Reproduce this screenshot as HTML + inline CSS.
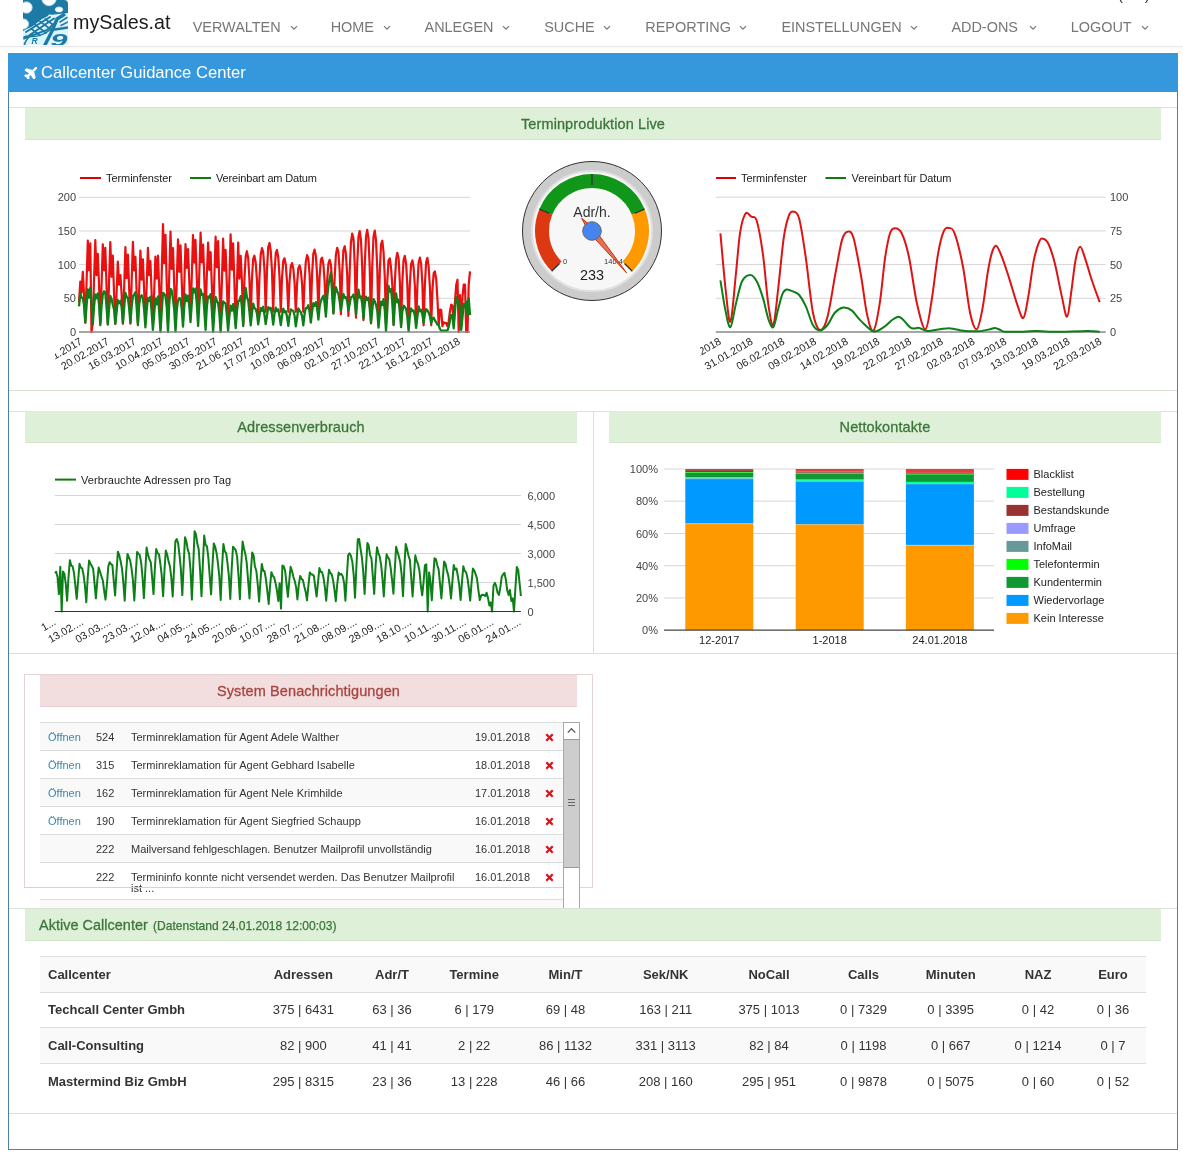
<!DOCTYPE html>
<html lang="de"><head><meta charset="utf-8"><title>mySales.at - Callcenter Guidance Center</title>
<style>
*{box-sizing:border-box;margin:0;padding:0}
html,body{width:1183px;height:1155px;overflow:hidden;background:#fff}
body{position:relative;font-family:"Liberation Sans",sans-serif;color:#333;font-size:13px}
.abs{position:absolute}
.nav{position:absolute;left:0;top:0;width:1183px;height:47px;background:#fff;border-bottom:1px solid #e9e9e9;box-shadow:0 1px 2px rgba(0,0,0,.04)}
.brand{position:absolute;left:73px;top:9px;font-size:19.7px;line-height:26px;color:#1c1c1c;white-space:nowrap}
.ni{position:absolute;top:18px;font-size:14.45px;line-height:18px;color:#777;white-space:nowrap}
.chev{position:absolute;top:24.5px;width:8px;height:6px}
.outer{position:absolute;left:8px;top:53px;width:1170px;height:1097px;border:1px solid #4a83a3;border-top:none;background:#fff}
.ohead{position:absolute;left:8px;top:53px;width:1170px;height:39px;background:#3598dc;color:#fff;font-size:16.6px;line-height:40px;white-space:nowrap}
.hline{position:absolute;height:1px;background:#d9e3d3}
.vline{position:absolute;width:1px;background:#d6e4cf}
.gh{position:absolute;height:32px;background:#dff0d8;border-bottom:1px solid #d3e6c9;color:#3c763d;font-size:14.5px;letter-spacing:.1px;line-height:33px;text-align:center;white-space:nowrap;-webkit-text-stroke:.3px #3c763d}
.rh{position:absolute;height:32px;background:#f2dede;border-bottom:1px solid #ebcfd2;color:#a94442;font-size:14.5px;letter-spacing:.1px;line-height:33px;text-align:center;white-space:nowrap;-webkit-text-stroke:.3px #a94442}
svg text{font-family:"Liberation Sans",sans-serif}
</style></head><body>
<div class="nav"></div>
<svg class="abs" style="left:23px;top:0" width="45" height="45" viewBox="0 0 45 45">
<defs><clipPath id="lgc"><path d="M0 0H41Q45 0 45 4V45H0Z"/></clipPath></defs>
<g clip-path="url(#lgc)">
<rect x="0" y="0" width="45" height="45" fill="#1c7aa4"/>
<path d="M0 31L10 26L19 19L27 15L36 14L45 13V45H0Z" fill="#dcf5fd"/>
<circle cx="3.500" cy="7.500" r="5.600" fill="#fff" stroke="#bfe3ef" stroke-width="1"/>
<circle cx="26" cy="-1.500" r="7.200" fill="#fff" stroke="#bfe3ef" stroke-width="1"/>
<ellipse cx="36" cy="9.500" rx="3.800" ry="2.600" fill="#fff" stroke="#bfe3ef" stroke-width=".8"/>
<circle cx="0.500" cy="24" r="5" fill="#fff" stroke="#bfe3ef" stroke-width="1"/>
<ellipse cx="27" cy="15.500" rx="1.800" ry="1.100" fill="#e8f8ff"/>
<g stroke="#1c7aa4" fill="none" stroke-linecap="round">
<path d="M3 32L27 17M6 35.500L31 18.500M1 38.500L24 30L34 21" stroke-width="1.900"/>
<path d="M12 24.500L23 33M17 21.500L28 29.500M8 28.500L17 35.500M22 19L31 25.500" stroke-width="1.600"/>
<path d="M21.500 46L29.500 30L34 19L42 14" stroke-width="3.400" stroke-linecap="butt"/>
<path d="M32 29.500L46 27.300" stroke-width="2.400"/>
<path d="M3 36C12 38 22 35 29 28" stroke-width="1.500"/>
<path d="M37 22L44 17.500M38 25.500L45 22" stroke-width="1.500"/>
</g>
<g fill="#1c7aa4" font-style="italic" font-weight="bold">
<text x="-0.500" y="45" font-size="12">7</text>
<text x="8.500" y="44" font-size="8.500">R</text>
<text x="27.500" y="45.500" font-size="16.500" textLength="17" lengthAdjust="spacingAndGlyphs">9</text>
</g>
</g>
</svg>

<div class="brand">mySales.at</div>
<div class="abs" style="left:1118px;top:-13px;font-size:15px;line-height:15px;color:#333;white-space:nowrap;letter-spacing:1px">(&nbsp;&nbsp;&nbsp;&nbsp;)</div>
<div class="ni" style="left:192.7px">VERWALTEN</div><svg class="chev" style="left:290px" viewBox="0 0 8 6"><path d="M1 1.2 L4 4.2 L7 1.2" fill="none" stroke="#777" stroke-width="1.2"/></svg>
<div class="ni" style="left:330.7px">HOME</div><svg class="chev" style="left:383px" viewBox="0 0 8 6"><path d="M1 1.2 L4 4.2 L7 1.2" fill="none" stroke="#777" stroke-width="1.2"/></svg>
<div class="ni" style="left:424.5px">ANLEGEN</div><svg class="chev" style="left:502px" viewBox="0 0 8 6"><path d="M1 1.2 L4 4.2 L7 1.2" fill="none" stroke="#777" stroke-width="1.2"/></svg>
<div class="ni" style="left:544.2px">SUCHE</div><svg class="chev" style="left:603px" viewBox="0 0 8 6"><path d="M1 1.2 L4 4.2 L7 1.2" fill="none" stroke="#777" stroke-width="1.2"/></svg>
<div class="ni" style="left:645.3px">REPORTING</div><svg class="chev" style="left:739px" viewBox="0 0 8 6"><path d="M1 1.2 L4 4.2 L7 1.2" fill="none" stroke="#777" stroke-width="1.2"/></svg>
<div class="ni" style="left:781.4px">EINSTELLUNGEN</div><svg class="chev" style="left:910px" viewBox="0 0 8 6"><path d="M1 1.2 L4 4.2 L7 1.2" fill="none" stroke="#777" stroke-width="1.2"/></svg>
<div class="ni" style="left:951.4px">ADD-ONS</div><svg class="chev" style="left:1029px" viewBox="0 0 8 6"><path d="M1 1.2 L4 4.2 L7 1.2" fill="none" stroke="#777" stroke-width="1.2"/></svg>
<div class="ni" style="left:1070.7px">LOGOUT</div><svg class="chev" style="left:1140.5px" viewBox="0 0 8 6"><path d="M1 1.2 L4 4.2 L7 1.2" fill="none" stroke="#777" stroke-width="1.2"/></svg>
<div class="outer"></div>
<div class="ohead"><svg class="abs" style="left:15.5px;top:13.5px" width="13.5" height="12.700" viewBox="0 0 16 15"><path fill="#fff" stroke="#fff" stroke-width="1.1" stroke-linejoin="round" d="M15.2 1.1c.6.6.2 2-1 3.200L11.900 6.600l1.900 7.100c.1.200 0 .4-.2.500l-1.200.9c-.2.200-.5.100-.6-.1L8.700 9.800 6.200 12.300l.4 2.100c0 .2 0 .3-.1.400l-.8.800c-.2.200-.5.100-.6-.1L3.900 13 1.400 11.800c-.3-.1-.3-.4-.1-.6l.8-.8c.1-.1.300-.2.400-.1l2.100.4L7.100 8.200 1.900 5.100c-.3-.1-.3-.4-.1-.6l1-1.200c.1-.2.300-.2.500-.2l7.100 1.900 2.300-2.300c1.200-1.200 2.600-1.600 3.200-1z" transform="translate(-0.5,-1)"/>
</svg><span class="abs" style="left:33px;top:0">Callcenter Guidance Center</span></div>
<div class="hline" style="left:9px;top:107px;width:1168px"></div><div class="hline" style="left:9px;top:390px;width:1168px"></div><div class="hline" style="left:9px;top:411px;width:1168px"></div><div class="hline" style="left:9px;top:653px;width:1168px"></div><div class="hline" style="left:9px;top:908px;width:1168px"></div><div class="hline" style="left:9px;top:1113px;width:1168px"></div><div class="vline" style="left:593px;top:411px;height:243px"></div>
<div class="gh" style="left:25px;top:108px;width:1136px">Terminproduktion Live</div>
<div class="gh" style="left:25px;top:411px;width:552px">Adressenverbrauch</div>
<div class="gh" style="left:609px;top:411px;width:552px">Nettokontakte</div>
<svg class="abs" style="left:55px;top:150px;overflow:hidden" width="445" height="235" viewBox="55 150 445 235"><path d="M80 178H101" stroke="#e00000" stroke-width="2"/><text x="106" y="182" font-size="11" fill="#222" textLength="66">Terminfenster</text><path d="M190 178H211" stroke="#0a7d0a" stroke-width="2"/><text x="216" y="182" font-size="11" fill="#222" textLength="101">Vereinbart am Datum</text><path d="M79.0 298.3H470.0" stroke="#d6d6d6" stroke-width="1"/><text x="76" y="302.3" text-anchor="end" font-size="11" fill="#444">50</text><path d="M79.0 264.6H470.0" stroke="#d6d6d6" stroke-width="1"/><text x="76" y="268.6" text-anchor="end" font-size="11" fill="#444">100</text><path d="M79.0 231.0H470.0" stroke="#d6d6d6" stroke-width="1"/><text x="76" y="235.0" text-anchor="end" font-size="11" fill="#444">150</text><path d="M79.0 197.3H470.0" stroke="#d6d6d6" stroke-width="1"/><text x="76" y="201.3" text-anchor="end" font-size="11" fill="#444">200</text><text x="76" y="336.0" text-anchor="end" font-size="11" fill="#444">0</text><polyline points="79.0,302.6 80.3,281.5 81.5,292.7 82.8,271.8 84.0,294.1 85.3,322.8 86.5,284.4 87.8,240.5 89.0,270.1 90.3,243.4 91.5,332.0 92.8,323.0 94.0,281.2 95.3,240.0 96.5,275.2 97.8,253.8 99.1,286.5 100.3,323.3 101.6,283.6 102.8,244.4 104.1,270.3 105.3,247.9 106.6,288.1 107.8,323.5 109.1,279.7 110.3,242.1 111.6,276.8 112.8,255.6 114.1,294.8 115.3,323.8 116.6,293.0 117.8,261.5 119.1,284.6 120.4,275.1 121.6,293.6 122.9,323.8 124.1,290.0 125.4,247.1 126.6,278.2 127.9,254.5 129.1,286.9 130.4,323.6 131.6,283.5 132.9,241.8 134.1,270.4 135.4,256.8 136.6,291.4 137.9,323.4 139.2,290.1 140.4,250.5 141.7,279.6 142.9,259.4 144.2,292.3 145.4,323.2 146.7,284.8 147.9,247.8 149.2,275.1 150.4,261.2 151.7,295.4 152.9,323.0 154.2,292.0 155.4,256.6 156.7,278.7 158.0,255.7 159.2,287.9 160.5,322.8 161.7,274.5 163.0,224.2 164.2,263.1 165.5,234.9 166.7,282.8 168.0,322.6 169.2,276.9 170.5,231.6 171.7,268.9 173.0,248.2 174.2,284.7 175.5,320.6 176.8,280.8 178.0,239.4 179.3,271.8 180.5,245.3 181.8,283.7 183.0,317.9 184.3,284.1 185.5,244.2 186.8,268.0 188.0,249.0 189.3,281.1 190.5,315.2 191.8,276.2 193.0,235.1 194.3,262.7 195.5,239.9 196.8,278.8 198.1,312.5 199.3,273.8 200.6,232.7 201.8,262.4 203.1,244.7 204.3,278.7 205.6,313.9 206.8,275.9 208.1,242.5 209.3,269.8 210.6,252.0 211.8,285.4 213.1,316.6 214.3,278.6 215.6,236.7 216.9,267.3 218.1,241.2 219.4,285.7 220.6,319.4 221.9,282.0 223.1,238.7 224.4,270.7 225.6,249.8 226.9,286.2 228.1,322.2 229.4,277.1 230.6,234.3 231.9,269.6 233.1,243.3 234.4,282.6 235.7,325.0 236.9,285.8 238.2,242.6 239.4,278.7 240.7,255.8 241.9,280.5 243.2,324.5 244.4,280.2 245.7,256.2 246.9,251.2 248.2,258.2 249.4,278.8 250.7,319.4 251.9,279.5 253.2,259.0 254.4,255.7 255.7,262.7 257.0,280.8 258.2,314.3 259.5,277.2 260.7,254.8 262.0,248.0 263.2,252.1 264.5,270.5 265.7,311.8 267.0,269.8 268.2,247.3 269.5,243.0 270.7,250.4 272.0,271.2 273.2,311.8 274.5,272.8 275.8,252.9 277.0,250.0 278.3,257.7 279.5,276.6 280.8,311.8 282.0,278.1 283.3,260.8 284.5,258.3 285.8,264.8 287.0,281.3 288.3,311.8 289.5,282.0 290.8,266.1 292.0,263.1 293.3,268.4 294.6,283.2 295.8,311.8 297.1,283.7 298.3,268.4 299.6,265.4 300.8,270.3 302.1,284.3 303.3,311.8 304.6,281.2 305.8,261.7 307.1,255.2 308.3,258.3 309.6,274.5 310.8,311.8 312.1,274.3 313.3,253.9 314.6,249.6 315.9,255.9 317.1,274.7 318.4,311.8 319.6,277.0 320.9,259.6 322.1,257.6 323.4,264.7 324.6,281.5 325.9,311.8 327.1,281.1 328.4,263.8 329.6,259.9 330.9,264.8 332.1,280.0 333.4,312.6 334.7,277.0 335.9,254.9 337.2,247.8 338.4,252.0 339.7,271.5 340.9,314.2 342.2,272.6 343.4,250.3 344.7,246.2 345.9,253.8 347.2,274.9 348.4,315.9 349.7,271.1 350.9,242.8 352.2,233.5 353.5,238.5 354.7,263.7 356.0,317.6 357.2,264.9 358.5,236.4 359.7,231.0 361.0,240.5 362.2,267.1 363.5,320.1 364.7,266.8 366.0,236.7 367.2,229.8 368.5,238.5 369.7,266.7 371.0,323.5 372.2,267.5 373.5,236.8 374.8,230.6 376.0,240.2 377.3,269.2 378.5,323.9 379.8,271.6 381.0,244.7 382.3,240.7 383.5,251.6 384.8,277.5 386.0,323.9 387.3,281.1 388.5,260.3 389.8,258.5 391.0,267.4 392.3,285.3 393.6,324.1 394.8,283.4 396.1,259.4 397.3,252.8 398.6,258.5 399.8,281.0 401.1,324.4 402.3,282.2 403.6,259.8 404.8,255.9 406.1,263.5 407.3,284.4 408.6,324.8 409.8,285.2 411.1,264.1 412.4,260.3 413.6,267.4 414.9,286.5 416.1,325.1 417.4,285.6 418.6,263.1 419.9,257.6 421.1,263.6 422.4,284.2 423.6,325.3 424.9,284.5 426.1,262.3 427.4,257.8 428.6,266.2 429.9,287.3 431.2,325.3 432.4,290.2 433.7,273.1 434.9,271.5 436.2,279.1 437.4,298.6 438.7,325.3 439.9,309.7 441.2,309.8 442.4,326.2 443.7,322.2 444.9,323.3 446.2,322.8 447.4,326.2 448.7,321.5 449.9,311.7 451.2,304.6 452.5,305.9 453.7,325.3 455.0,300.8 456.2,285.1 457.5,279.7 458.7,332.0 460.0,295.0 461.2,325.3 462.5,297.1 463.7,284.7 465.0,284.6 466.2,332.0 467.5,332.0 468.7,284.9 470.0,271.4" fill="none" stroke="#e81010" stroke-width="2.2" stroke-linejoin="round"/><polyline points="79.0,306.4 80.3,293.3 81.5,297.6 82.8,297.9 84.0,304.8 85.3,322.4 86.5,306.7 87.8,289.5 89.0,297.6 90.3,287.9 91.5,303.5 92.8,323.9 94.0,306.8 95.3,294.3 96.5,298.2 97.8,293.4 99.1,305.2 100.3,325.2 101.6,305.7 102.8,294.5 104.1,291.3 105.3,292.4 106.6,307.9 107.8,324.6 109.1,308.5 110.3,296.0 111.6,298.9 112.8,304.8 114.1,309.6 115.3,323.9 116.6,312.2 117.8,300.2 119.1,303.2 120.4,300.8 121.6,307.0 122.9,323.2 124.1,308.7 125.4,292.9 126.6,296.9 127.9,298.0 129.1,307.6 130.4,322.7 131.6,307.3 132.9,296.4 134.1,294.6 135.4,292.3 136.6,307.0 137.9,325.1 139.2,304.2 140.4,296.8 141.7,295.3 142.9,298.0 144.2,310.5 145.4,327.4 146.7,310.0 147.9,298.0 149.2,300.7 150.4,296.7 151.7,313.0 152.9,329.8 154.2,313.8 155.4,298.5 156.7,304.4 158.0,296.3 159.2,311.7 160.5,332.0 161.7,311.8 163.0,292.8 164.2,293.9 165.5,296.3 166.7,306.6 168.0,332.0 169.2,304.5 170.5,288.8 171.7,290.4 173.0,298.8 174.2,309.5 175.5,331.7 176.8,309.7 178.0,300.7 179.3,298.1 180.5,298.7 181.8,309.6 183.0,326.6 184.3,306.5 185.5,294.5 186.8,301.1 188.0,295.6 189.3,306.1 190.5,322.2 191.8,303.5 193.0,288.5 194.3,292.3 195.5,288.5 196.8,304.0 198.1,326.0 199.3,304.4 200.6,289.4 201.8,294.9 203.1,293.9 204.3,310.4 205.6,329.8 206.8,307.7 208.1,296.3 209.3,297.8 210.6,294.1 211.8,309.5 213.1,332.0 214.3,313.2 215.6,297.0 216.9,301.1 218.1,303.1 219.4,314.2 220.6,332.0 221.9,312.0 223.1,301.4 224.4,302.8 225.6,303.5 226.9,315.5 228.1,330.9 229.4,316.0 230.6,305.7 231.9,310.7 233.1,304.1 234.4,313.0 235.7,328.2 236.9,311.8 238.2,301.0 239.4,300.8 240.7,296.2 241.9,307.4 243.2,326.2 244.4,303.6 245.7,287.8 246.9,297.2 248.2,300.5 249.4,311.3 250.7,325.3 251.9,313.3 253.2,303.6 254.4,308.0 255.7,309.1 257.0,313.7 258.2,324.4 259.5,315.3 260.7,307.9 262.0,310.9 263.2,306.8 264.5,315.0 265.7,324.2 267.0,315.6 268.2,307.2 269.5,309.3 270.7,307.8 272.0,314.2 273.2,324.7 274.5,313.7 275.8,307.7 277.0,311.2 278.3,309.4 279.5,316.3 280.8,325.2 282.0,315.8 283.3,308.6 284.5,312.2 285.8,311.2 287.0,316.6 288.3,325.8 289.5,316.2 290.8,309.5 292.0,310.3 293.3,311.0 294.6,315.8 295.8,326.3 297.1,317.8 298.3,308.4 299.6,310.8 300.8,312.1 302.1,316.1 303.3,325.3 304.6,313.8 305.8,308.1 307.1,308.0 308.3,305.2 309.6,311.8 310.8,322.5 312.1,311.6 313.3,303.2 314.6,306.0 315.9,302.1 317.1,308.1 318.4,319.6 319.6,307.1 320.9,300.8 322.1,298.1 323.4,295.8 324.6,303.4 325.9,316.7 327.1,298.5 328.4,285.7 329.6,278.8 330.9,272.5 332.1,293.2 333.4,313.6 334.7,296.1 335.9,287.2 337.2,291.2 338.4,293.9 339.7,301.9 340.9,310.3 342.2,301.7 343.4,294.0 344.7,297.7 345.9,297.1 347.2,301.3 348.4,310.5 349.7,303.9 350.9,297.3 352.2,296.8 353.5,294.5 354.7,301.6 356.0,314.3 357.2,301.7 358.5,289.6 359.7,297.5 361.0,296.5 362.2,303.9 363.5,318.4 364.7,304.7 366.0,296.6 367.2,299.9 368.5,297.8 369.7,308.4 371.0,322.6 372.2,310.3 373.5,299.2 374.8,301.4 376.0,304.8 377.3,311.0 378.5,327.6 379.8,313.5 381.0,301.7 382.3,305.0 383.5,299.2 384.8,310.7 386.0,331.2 387.3,310.5 388.5,285.8 389.8,291.7 391.0,289.1 392.3,301.9 393.6,325.1 394.8,305.4 396.1,293.5 397.3,302.4 398.6,299.8 399.8,311.8 401.1,327.2 402.3,311.4 403.6,305.6 404.8,307.0 406.1,308.8 407.3,316.4 408.6,331.2 409.8,316.2 411.1,308.4 412.4,311.0 413.6,310.5 414.9,315.9 416.1,327.9 417.4,316.7 418.6,306.5 419.9,311.3 421.1,309.6 422.4,314.8 423.6,322.8 424.9,313.8 426.1,309.1 427.4,310.4 428.6,312.5 429.9,316.0 431.2,323.3 432.4,318.2 433.7,317.7 434.9,320.4 436.2,322.3 437.4,324.6 438.7,325.0 439.9,328.8 441.2,330.7 442.4,330.7 443.7,330.7 444.9,330.7 446.2,330.7 447.4,330.7 448.7,326.8 449.9,321.3 451.2,315.1 452.5,315.2 453.7,328.3 455.0,311.1 456.2,296.9 457.5,302.4 458.7,300.5 460.0,310.9 461.2,330.0 462.5,317.2 463.7,303.9 465.0,307.1 466.2,301.7 467.5,315.3 468.7,298.3 470.0,315.2" fill="none" stroke="#0d7f17" stroke-width="2.3" stroke-linejoin="round"/><path d="M79.0 332.0H470.0" stroke="#888" stroke-width="1.4"/><text x="83.0" y="343.5" text-anchor="end" font-size="10.7" fill="#222" transform="rotate(-30 83.0 343.5)">26.01.2017</text><text x="110.0" y="343.5" text-anchor="end" font-size="10.7" fill="#222" transform="rotate(-30 110.0 343.5)">20.02.2017</text><text x="137.0" y="343.5" text-anchor="end" font-size="10.7" fill="#222" transform="rotate(-30 137.0 343.5)">16.03.2017</text><text x="164.0" y="343.5" text-anchor="end" font-size="10.7" fill="#222" transform="rotate(-30 164.0 343.5)">10.04.2017</text><text x="191.0" y="343.5" text-anchor="end" font-size="10.7" fill="#222" transform="rotate(-30 191.0 343.5)">05.05.2017</text><text x="218.0" y="343.5" text-anchor="end" font-size="10.7" fill="#222" transform="rotate(-30 218.0 343.5)">30.05.2017</text><text x="245.0" y="343.5" text-anchor="end" font-size="10.7" fill="#222" transform="rotate(-30 245.0 343.5)">21.06.2017</text><text x="272.0" y="343.5" text-anchor="end" font-size="10.7" fill="#222" transform="rotate(-30 272.0 343.5)">17.07.2017</text><text x="299.0" y="343.5" text-anchor="end" font-size="10.7" fill="#222" transform="rotate(-30 299.0 343.5)">10.08.2017</text><text x="326.0" y="343.5" text-anchor="end" font-size="10.7" fill="#222" transform="rotate(-30 326.0 343.5)">06.09.2017</text><text x="353.0" y="343.5" text-anchor="end" font-size="10.7" fill="#222" transform="rotate(-30 353.0 343.5)">02.10.2017</text><text x="380.0" y="343.5" text-anchor="end" font-size="10.7" fill="#222" transform="rotate(-30 380.0 343.5)">27.10.2017</text><text x="407.0" y="343.5" text-anchor="end" font-size="10.7" fill="#222" transform="rotate(-30 407.0 343.5)">22.11.2017</text><text x="434.0" y="343.5" text-anchor="end" font-size="10.7" fill="#222" transform="rotate(-30 434.0 343.5)">16.12.2017</text><text x="461.0" y="343.5" text-anchor="end" font-size="10.7" fill="#222" transform="rotate(-30 461.0 343.5)">16.01.2018</text></svg>
<svg class="abs" style="left:510px;top:150px" width="170" height="165" viewBox="510 150 170 165"><circle cx="592.0" cy="231.0" r="69.5" fill="#cccccc" stroke="#333" stroke-width="1"/><circle cx="592.0" cy="231.0" r="60" fill="#f7f7f7" stroke="#e0e0e0" stroke-width="2"/><path d="M551.69 271.31A57 57 0 0 1 539.34 209.19L552.27 214.54A43 43 0 0 0 561.59 261.41Z" fill="#dc3912"/><path d="M539.34 209.19A57 57 0 0 1 644.66 209.19L631.73 214.54A43 43 0 0 0 552.27 214.54Z" fill="#109618"/><path d="M644.66 209.19A57 57 0 0 1 632.31 271.31L622.41 261.41A43 43 0 0 0 631.73 214.54Z" fill="#ff9900"/><path d="M559.47 263.53L551.69 271.31" stroke="#333" stroke-width="1.3"/><path d="M549.50 213.40L539.34 209.19" stroke="#333" stroke-width="1.3"/><path d="M592.00 185.00L592.00 174.00" stroke="#333" stroke-width="1.3"/><path d="M634.50 213.40L644.66 209.19" stroke="#333" stroke-width="1.3"/><path d="M624.53 263.53L632.31 271.31" stroke="#333" stroke-width="1.3"/><text x="592.0" y="216.5" text-anchor="middle" font-size="14" fill="#333">Adr/h.</text><text x="565" y="264" text-anchor="middle" font-size="7.5" fill="#333">0</text><text x="613.5" y="264" text-anchor="middle" font-size="7.5" fill="#333">140.4</text><text x="592.0" y="279.5" text-anchor="middle" font-size="14.4" fill="#222">233</text><path d="M626.5 272.8L589.5 233.0L581.6 218.2L594.5 229.0Z" fill="#dc3912" fill-opacity="0.7" stroke="#c63310" stroke-width="1"/><circle cx="592.0" cy="231.0" r="9.3" fill="#4684ee" stroke="#666" stroke-width="1"/></svg>
<svg class="abs" style="left:700px;top:150px;overflow:hidden" width="468" height="235" viewBox="700 150 468 235"><path d="M716 178H736" stroke="#e00000" stroke-width="2"/><text x="741" y="182" font-size="11" fill="#222" textLength="66">Terminfenster</text><path d="M825.5 178H846" stroke="#0a7d0a" stroke-width="2"/><text x="851.5" y="182" font-size="11" fill="#222" textLength="100">Vereinbart für Datum</text><text x="1110" y="336.0" font-size="11" fill="#444">0</text><path d="M715.8 298.3H1105.8" stroke="#d6d6d6" stroke-width="1"/><text x="1110" y="302.3" font-size="11" fill="#444">25</text><path d="M715.8 264.6H1105.8" stroke="#d6d6d6" stroke-width="1"/><text x="1110" y="268.6" font-size="11" fill="#444">50</text><path d="M715.8 230.9H1105.8" stroke="#d6d6d6" stroke-width="1"/><text x="1110" y="234.9" font-size="11" fill="#444">75</text><path d="M715.8 197.2H1105.8" stroke="#d6d6d6" stroke-width="1"/><text x="1110" y="201.2" font-size="11" fill="#444">100</text><path d="M715.8 332H1105.8" stroke="#888" stroke-width="1.4"/><path d="M720.4 233.3C721.3 242.4 723.8 272.8 725.4 287.5C727.1 302.2 728.7 323.8 730.4 321.7C732.2 319.6 734.2 289.7 735.8 275.0C737.4 260.3 738.4 243.6 740.0 233.3C741.6 223.1 743.6 216.5 745.4 213.8C747.3 211.0 749.4 215.5 751.3 216.7C753.1 217.9 754.7 214.6 756.7 220.8C758.6 227.1 761.0 240.3 762.9 254.2C764.9 268.1 766.6 292.4 768.3 304.2C770.1 316.0 771.7 327.8 773.3 325.0C775.0 322.3 776.6 302.1 778.3 287.5C780.1 272.9 782.0 249.5 783.8 237.5C785.5 225.6 787.2 220.2 788.8 215.8C790.4 211.5 791.6 211.2 793.4 211.7C795.1 212.2 797.1 211.0 799.2 218.8C801.3 226.5 803.6 242.7 805.9 258.4C808.1 274.0 810.6 300.6 812.9 312.5C815.3 324.5 817.6 329.3 820.0 330.0C822.5 330.7 824.9 326.6 827.5 316.7C830.2 306.8 833.4 283.7 835.9 270.9C838.3 258.0 840.2 246.1 842.1 239.6C844.1 233.1 845.7 232.0 847.5 231.7C849.4 231.3 851.1 230.3 853.4 237.5C855.6 244.7 858.6 262.2 860.9 275.0C863.2 287.9 865.0 305.3 867.1 314.6C869.2 323.9 871.3 332.6 873.4 330.9C875.4 329.1 877.7 316.3 879.6 304.2C881.6 292.1 883.3 270.2 885.0 258.4C886.8 246.5 888.4 238.3 890.0 233.3C891.7 228.3 893.1 228.3 895.0 228.3C897.0 228.3 899.4 228.7 901.7 233.3C904.0 238.0 906.2 244.5 908.8 256.3C911.4 268.1 914.3 292.0 917.1 304.2C919.9 316.3 923.0 329.9 925.5 329.2C927.9 328.5 929.6 312.5 931.7 300.0C933.8 287.5 936.0 265.5 938.0 254.2C939.9 242.9 941.6 236.5 943.4 232.1C945.1 227.7 946.5 227.7 948.4 227.9C950.3 228.1 952.2 226.9 954.6 233.3C957.1 239.8 960.4 253.5 963.0 266.7C965.5 279.9 967.8 302.1 970.0 312.5C972.3 322.9 974.6 329.9 976.7 329.2C978.8 328.5 980.7 318.1 982.5 308.4C984.4 298.6 986.4 280.2 988.0 270.9C989.6 261.5 990.7 256.3 992.1 252.1C993.5 247.9 994.7 245.2 996.3 245.8C997.9 246.5 999.6 251.1 1001.7 256.3C1003.8 261.5 1006.2 269.1 1008.8 277.1C1011.4 285.1 1014.7 297.4 1017.1 304.2C1019.6 311.0 1021.5 319.3 1023.4 317.9C1025.3 316.6 1026.7 305.4 1028.4 295.9C1030.1 286.3 1032.0 269.5 1033.8 260.4C1035.6 251.4 1037.7 245.3 1039.2 241.7C1040.8 238.1 1041.4 238.4 1043.0 238.8C1044.5 239.1 1046.4 239.8 1048.4 243.8C1050.3 247.7 1052.4 253.8 1054.6 262.5C1056.9 271.2 1059.6 286.8 1061.7 295.9C1063.8 304.9 1065.5 317.4 1067.1 316.7C1068.7 316.0 1069.9 301.1 1071.3 291.7C1072.7 282.3 1074.0 267.9 1075.5 260.4C1076.9 252.9 1078.5 247.0 1080.1 246.7C1081.7 246.3 1083.1 252.6 1085.1 258.4C1087.1 264.1 1089.7 274.0 1092.2 281.3C1094.6 288.6 1098.4 298.6 1099.7 302.1" fill="none" stroke="#dc1414" stroke-width="2"/><path d="M720.4 280.4C721.3 285.4 723.8 302.7 725.4 310.4C727.1 318.2 728.7 328.2 730.4 327.1C732.2 326.1 733.9 311.8 735.8 304.2C737.8 296.6 739.7 286.1 742.1 281.3C744.5 276.4 748.0 275.0 750.4 275.0C752.9 275.0 754.6 277.5 756.7 281.3C758.8 285.1 761.0 291.7 762.9 297.9C764.9 304.2 766.6 313.9 768.3 318.8C770.1 323.6 771.7 328.8 773.3 327.1C775.0 325.4 776.8 313.9 778.3 308.4C779.9 302.8 781.1 296.9 782.5 293.8C783.9 290.6 784.9 290.0 786.7 289.6C788.5 289.3 791.3 290.8 793.4 291.7C795.4 292.6 797.1 292.6 799.2 295.0C801.3 297.5 803.6 301.3 805.9 306.3C808.1 311.3 810.6 321.0 812.9 325.0C815.3 329.1 817.6 330.4 820.0 330.4C822.5 330.4 825.0 328.0 827.5 325.0C830.0 322.0 832.4 315.4 835.0 312.5C837.7 309.6 840.6 307.9 843.4 307.5C846.1 307.2 848.8 308.2 851.7 310.4C854.6 312.7 857.3 317.4 860.9 320.9C864.5 324.3 869.5 330.2 873.4 331.3C877.2 332.3 880.7 329.0 883.8 327.1C886.9 325.2 889.7 321.8 892.1 320.0C894.5 318.3 896.5 316.7 898.4 316.7C900.2 316.7 901.3 318.2 903.4 320.0C905.5 321.9 908.2 326.6 910.9 327.9C913.5 329.3 916.4 327.5 919.2 327.9C922.0 328.4 924.1 330.7 927.5 330.9C931.0 331.1 936.2 329.6 940.0 329.2C943.9 328.8 947.0 328.2 950.5 328.4C953.9 328.6 957.8 330.0 960.9 330.4C964.0 330.9 965.7 331.2 969.2 331.3C972.7 331.4 978.2 331.2 981.7 330.9C985.2 330.5 987.8 329.7 990.1 329.2C992.3 328.7 993.3 327.8 995.1 327.9C996.8 328.1 998.9 329.4 1000.5 330.0C1002.1 330.7 1000.8 331.4 1004.6 331.7C1008.5 332.0 1018.2 331.8 1023.4 331.7C1028.6 331.6 1031.7 330.9 1035.9 330.9C1040.1 330.9 1043.5 331.6 1048.4 331.7C1053.3 331.8 1059.5 331.8 1065.1 331.7C1070.6 331.6 1077.6 331.4 1081.7 331.3C1085.9 331.1 1087.1 330.8 1090.1 330.9C1093.1 330.9 1098.1 331.6 1099.7 331.7" fill="none" stroke="#0d7f17" stroke-width="2"/><text x="722.0" y="343.5" text-anchor="end" font-size="10.7" fill="#222" transform="rotate(-30 722.0 343.5)">26.01.2018</text><text x="753.7" y="343.5" text-anchor="end" font-size="10.7" fill="#222" transform="rotate(-30 753.7 343.5)">31.01.2018</text><text x="785.4" y="343.5" text-anchor="end" font-size="10.7" fill="#222" transform="rotate(-30 785.4 343.5)">06.02.2018</text><text x="817.1" y="343.5" text-anchor="end" font-size="10.7" fill="#222" transform="rotate(-30 817.1 343.5)">09.02.2018</text><text x="848.8" y="343.5" text-anchor="end" font-size="10.7" fill="#222" transform="rotate(-30 848.8 343.5)">14.02.2018</text><text x="880.5" y="343.5" text-anchor="end" font-size="10.7" fill="#222" transform="rotate(-30 880.5 343.5)">19.02.2018</text><text x="912.2" y="343.5" text-anchor="end" font-size="10.7" fill="#222" transform="rotate(-30 912.2 343.5)">22.02.2018</text><text x="943.9" y="343.5" text-anchor="end" font-size="10.7" fill="#222" transform="rotate(-30 943.9 343.5)">27.02.2018</text><text x="975.6" y="343.5" text-anchor="end" font-size="10.7" fill="#222" transform="rotate(-30 975.6 343.5)">02.03.2018</text><text x="1007.3" y="343.5" text-anchor="end" font-size="10.7" fill="#222" transform="rotate(-30 1007.3 343.5)">07.03.2018</text><text x="1039.0" y="343.5" text-anchor="end" font-size="10.7" fill="#222" transform="rotate(-30 1039.0 343.5)">13.03.2018</text><text x="1070.7" y="343.5" text-anchor="end" font-size="10.7" fill="#222" transform="rotate(-30 1070.7 343.5)">19.03.2018</text><text x="1102.4" y="343.5" text-anchor="end" font-size="10.7" fill="#222" transform="rotate(-30 1102.4 343.5)">22.03.2018</text></svg>
<svg class="abs" style="left:40px;top:455px;overflow:hidden" width="540" height="195" viewBox="40 455 540 195"><path d="M55 479.6H76" stroke="#0a7d0a" stroke-width="2"/><text x="81" y="483.5" font-size="11" fill="#222" textLength="150">Verbrauchte Adressen pro Tag</text><text x="527.5" y="615.5" font-size="11" fill="#444">0</text><path d="M54.8 582.5H520.9" stroke="#d6d6d6" stroke-width="1"/><text x="527.5" y="586.5" font-size="11" fill="#444">1,500</text><path d="M54.8 553.5H520.9" stroke="#d6d6d6" stroke-width="1"/><text x="527.5" y="557.5" font-size="11" fill="#444">3,000</text><path d="M54.8 524.5H520.9" stroke="#d6d6d6" stroke-width="1"/><text x="527.5" y="528.5" font-size="11" fill="#444">4,500</text><path d="M54.8 495.5H520.9" stroke="#d6d6d6" stroke-width="1"/><text x="527.5" y="499.5" font-size="11" fill="#444">6,000</text><polyline points="54.8,572.8 56.2,571.9 57.5,576.7 58.9,594.1 60.3,566.7 61.7,611.5 63.0,571.6 64.4,574.0 65.8,583.9 67.1,600.8 68.5,577.4 69.9,560.2 71.3,565.7 72.6,566.4 74.0,572.8 75.4,585.9 76.7,598.8 78.1,581.2 79.5,563.7 80.8,567.6 82.2,568.3 83.6,575.3 85.0,586.3 86.3,602.3 87.7,577.6 89.1,560.6 90.4,563.5 91.8,565.9 93.2,569.0 94.6,584.1 95.9,598.3 97.3,580.6 98.7,567.6 100.0,571.6 101.4,576.2 102.8,580.5 104.2,591.0 105.5,599.7 106.9,584.6 108.3,566.4 109.6,562.2 111.0,564.1 112.4,565.1 113.7,580.4 115.1,595.5 116.5,571.9 117.9,551.7 119.2,555.1 120.6,561.0 122.0,568.6 123.3,582.2 124.7,600.7 126.1,572.8 127.5,554.0 128.8,557.2 130.2,560.6 131.6,568.9 132.9,580.0 134.3,600.5 135.7,574.8 137.1,551.9 138.4,553.6 139.8,555.2 141.2,563.0 142.5,577.3 143.9,598.1 145.3,570.8 146.6,547.5 148.0,554.9 149.4,559.1 150.8,562.3 152.1,577.1 153.5,594.1 154.9,567.7 156.2,549.1 157.6,553.0 159.0,554.4 160.4,564.0 161.7,575.4 163.1,596.3 164.5,570.1 165.8,550.5 167.2,554.6 168.6,561.6 170.0,566.5 171.3,577.6 172.7,596.4 174.1,568.1 175.4,541.0 176.8,539.1 178.2,543.6 179.6,556.1 180.9,569.6 182.3,595.1 183.7,564.2 185.0,537.2 186.4,541.4 187.8,549.8 189.1,553.5 190.5,569.8 191.9,599.6 193.3,563.6 194.6,531.2 196.0,534.5 197.4,544.1 198.7,549.3 200.1,570.8 201.5,596.3 202.9,562.4 204.2,535.5 205.6,544.9 207.0,546.5 208.3,557.4 209.7,575.8 211.1,594.3 212.5,565.1 213.8,543.4 215.2,546.9 216.6,553.2 217.9,562.8 219.3,576.1 220.7,600.0 222.0,568.0 223.4,543.9 224.8,551.4 226.2,553.1 227.5,563.3 228.9,576.1 230.3,599.0 231.6,570.5 233.0,546.7 234.4,548.3 235.8,550.4 237.1,556.6 238.5,575.5 239.9,599.3 241.2,565.7 242.6,541.6 244.0,548.5 245.4,554.4 246.7,562.6 248.1,580.3 249.5,598.4 250.8,572.8 252.2,552.4 253.6,555.4 254.9,566.3 256.3,570.7 257.7,584.0 259.1,601.6 260.4,581.8 261.8,563.9 263.2,570.7 264.5,571.2 265.9,579.2 267.3,591.0 268.7,603.9 270.0,586.7 271.4,572.2 272.8,575.8 274.1,577.3 275.5,582.9 276.9,590.3 278.3,600.9 279.6,583.2 281.0,608.6 282.4,565.5 283.7,566.4 285.1,570.6 286.5,583.7 287.9,596.8 289.2,581.5 290.6,566.7 292.0,571.1 293.3,576.6 294.7,580.7 296.1,587.1 297.4,599.5 298.8,584.9 300.2,575.9 301.6,578.9 302.9,580.1 304.3,586.4 305.7,591.9 307.0,600.3 308.4,585.7 309.8,572.4 311.2,574.4 312.5,574.5 313.9,576.0 315.3,587.1 316.6,596.6 318.0,582.7 319.4,568.0 320.8,571.8 322.1,572.2 323.5,577.7 324.9,587.4 326.2,600.7 327.6,583.6 329.0,569.8 330.3,573.0 331.7,574.3 333.1,580.4 334.5,590.2 335.8,601.2 337.2,584.7 338.6,572.5 339.9,574.7 341.3,573.9 342.7,576.2 344.1,583.0 345.4,600.7 346.8,576.8 348.2,555.1 349.5,553.3 350.9,555.8 352.3,561.4 353.7,575.0 355.0,597.7 356.4,566.8 357.8,539.2 359.1,539.1 360.5,548.6 361.9,557.5 363.2,571.7 364.6,593.9 366.0,567.8 367.4,542.9 368.7,545.4 370.1,555.0 371.5,558.9 372.8,576.1 374.2,593.9 375.6,565.6 377.0,547.3 378.3,552.8 379.7,556.5 381.1,564.7 382.4,577.8 383.8,596.5 385.2,572.2 386.6,554.3 387.9,557.3 389.3,559.4 390.7,568.1 392.0,579.7 393.4,593.7 394.8,569.4 396.1,546.8 397.5,551.8 398.9,556.6 400.3,562.9 401.6,574.5 403.0,596.2 404.4,566.5 405.7,544.0 407.1,549.1 408.5,555.8 409.9,560.0 411.2,577.1 412.6,596.5 414.0,575.1 415.3,555.3 416.7,561.2 418.1,564.2 419.5,571.2 420.8,585.3 422.2,595.3 423.6,581.9 424.9,565.4 426.3,564.3 427.7,611.5 429.1,572.4 430.4,581.0 431.8,600.3 433.2,577.6 434.5,558.3 435.9,559.2 437.3,565.3 438.6,569.2 440.0,583.5 441.4,598.4 442.8,578.9 444.1,561.6 445.5,563.8 446.9,570.9 448.2,575.0 449.6,584.7 451.0,598.5 452.4,581.7 453.7,565.1 455.1,569.6 456.5,568.6 457.8,575.7 459.2,584.9 460.6,600.0 462.0,581.8 463.3,566.3 464.7,570.9 466.1,572.3 467.4,577.7 468.8,588.0 470.2,600.6 471.5,583.7 472.9,568.5 474.3,570.5 475.7,574.3 477.0,578.6 478.4,590.3 479.8,600.0 481.1,595.6 482.5,594.7 483.9,594.9 485.3,596.1 486.6,592.7 488.0,598.1 489.4,605.5 490.7,602.5 492.1,611.5 493.5,585.6 494.9,582.9 496.2,586.2 497.6,592.8 499.0,594.9 500.3,587.6 501.7,576.8 503.1,574.4 504.4,572.8 505.8,579.2 507.2,590.1 508.6,594.9 509.9,590.0 511.3,600.9 512.7,598.4 514.0,611.5 515.4,588.3 516.8,567.0 518.2,569.9 519.5,582.5 520.9,596.0" fill="none" stroke="#0d7f17" stroke-width="2" stroke-linejoin="round"/><path d="M54.8 611.5H520.9" stroke="#333" stroke-width="1"/><text x="56.7" y="624.0" text-anchor="end" font-size="10.7" fill="#222" transform="rotate(-30 56.7 624.0)">1...</text><text x="84.1" y="624.0" text-anchor="end" font-size="10.7" fill="#222" transform="rotate(-30 84.1 624.0)">13.02....</text><text x="111.4" y="624.0" text-anchor="end" font-size="10.7" fill="#222" transform="rotate(-30 111.4 624.0)">03.03....</text><text x="138.8" y="624.0" text-anchor="end" font-size="10.7" fill="#222" transform="rotate(-30 138.8 624.0)">23.03....</text><text x="166.1" y="624.0" text-anchor="end" font-size="10.7" fill="#222" transform="rotate(-30 166.1 624.0)">12.04....</text><text x="193.4" y="624.0" text-anchor="end" font-size="10.7" fill="#222" transform="rotate(-30 193.4 624.0)">04.05....</text><text x="220.8" y="624.0" text-anchor="end" font-size="10.7" fill="#222" transform="rotate(-30 220.8 624.0)">24.05....</text><text x="248.2" y="624.0" text-anchor="end" font-size="10.7" fill="#222" transform="rotate(-30 248.2 624.0)">20.06....</text><text x="275.5" y="624.0" text-anchor="end" font-size="10.7" fill="#222" transform="rotate(-30 275.5 624.0)">10.07....</text><text x="302.9" y="624.0" text-anchor="end" font-size="10.7" fill="#222" transform="rotate(-30 302.9 624.0)">28.07....</text><text x="330.2" y="624.0" text-anchor="end" font-size="10.7" fill="#222" transform="rotate(-30 330.2 624.0)">21.08....</text><text x="357.6" y="624.0" text-anchor="end" font-size="10.7" fill="#222" transform="rotate(-30 357.6 624.0)">08.09....</text><text x="384.9" y="624.0" text-anchor="end" font-size="10.7" fill="#222" transform="rotate(-30 384.9 624.0)">28.09....</text><text x="412.2" y="624.0" text-anchor="end" font-size="10.7" fill="#222" transform="rotate(-30 412.2 624.0)">18.10....</text><text x="439.6" y="624.0" text-anchor="end" font-size="10.7" fill="#222" transform="rotate(-30 439.6 624.0)">10.11....</text><text x="466.9" y="624.0" text-anchor="end" font-size="10.7" fill="#222" transform="rotate(-30 466.9 624.0)">30.11....</text><text x="494.3" y="624.0" text-anchor="end" font-size="10.7" fill="#222" transform="rotate(-30 494.3 624.0)">06.01....</text><text x="521.7" y="624.0" text-anchor="end" font-size="10.7" fill="#222" transform="rotate(-30 521.7 624.0)">24.01....</text></svg>
<svg class="abs" style="left:610px;top:455px" width="560" height="195" viewBox="610 455 560 195"><text x="658" y="634.2" text-anchor="end" font-size="11" fill="#444">0%</text><path d="M664 598.0H994" stroke="#d6d6d6" stroke-width="1"/><text x="658" y="602.0" text-anchor="end" font-size="11" fill="#444">20%</text><path d="M664 565.7H994" stroke="#d6d6d6" stroke-width="1"/><text x="658" y="569.7" text-anchor="end" font-size="11" fill="#444">40%</text><path d="M664 533.5H994" stroke="#d6d6d6" stroke-width="1"/><text x="658" y="537.5" text-anchor="end" font-size="11" fill="#444">60%</text><path d="M664 501.2H994" stroke="#d6d6d6" stroke-width="1"/><text x="658" y="505.2" text-anchor="end" font-size="11" fill="#444">80%</text><path d="M664 469.0H994" stroke="#d6d6d6" stroke-width="1"/><text x="658" y="473.0" text-anchor="end" font-size="11" fill="#444">100%</text><rect x="685.3" y="523.2" width="68" height="107.0" fill="#ff9900"/><path d="M685.3 523.7h68" stroke="#ffe0b0" stroke-opacity=".55" stroke-width="1"/><rect x="685.3" y="478.2" width="68" height="45.0" fill="#0099ff"/><path d="M685.3 478.7h68" stroke="#ffe0b0" stroke-opacity=".55" stroke-width="1"/><rect x="685.3" y="477.1" width="68" height="1.1" fill="#00ff99"/><rect x="685.3" y="472.5" width="68" height="4.5" fill="#109933"/><rect x="685.3" y="472.1" width="68" height="0.5" fill="#00ff00"/><rect x="685.3" y="470.1" width="68" height="1.9" fill="#993333"/><rect x="685.3" y="469.0" width="68" height="1.1" fill="#e04040"/><rect x="795.7" y="524.1" width="68" height="106.1" fill="#ff9900"/><path d="M795.7 524.6h68" stroke="#ffe0b0" stroke-opacity=".55" stroke-width="1"/><rect x="795.7" y="480.8" width="68" height="43.4" fill="#0099ff"/><path d="M795.7 481.3h68" stroke="#ffe0b0" stroke-opacity=".55" stroke-width="1"/><rect x="795.7" y="479.5" width="68" height="1.3" fill="#00ff99"/><rect x="795.7" y="473.4" width="68" height="6.1" fill="#109933"/><rect x="795.7" y="472.7" width="68" height="0.6" fill="#00ff00"/><rect x="795.7" y="471.7" width="68" height="1.0" fill="#993333"/><rect x="795.7" y="469.0" width="68" height="2.7" fill="#e04040"/><rect x="905.9" y="544.9" width="68" height="85.3" fill="#ff9900"/><path d="M905.9 545.4h68" stroke="#ffe0b0" stroke-opacity=".55" stroke-width="1"/><rect x="905.9" y="483.3" width="68" height="61.6" fill="#0099ff"/><path d="M905.9 483.8h68" stroke="#ffe0b0" stroke-opacity=".55" stroke-width="1"/><rect x="905.9" y="481.9" width="68" height="1.5" fill="#00ff99"/><rect x="905.9" y="474.3" width="68" height="7.6" fill="#109933"/><rect x="905.9" y="473.7" width="68" height="0.6" fill="#00ff00"/><rect x="905.9" y="472.9" width="68" height="0.8" fill="#993333"/><rect x="905.9" y="469.0" width="68" height="3.9" fill="#e04040"/><path d="M664 630.2H994" stroke="#444" stroke-width="1.2"/><text x="719.3" y="643.5" text-anchor="middle" font-size="11" fill="#222">12-2017</text><text x="829.7" y="643.5" text-anchor="middle" font-size="11" fill="#222">1-2018</text><text x="939.9" y="643.5" text-anchor="middle" font-size="11" fill="#222">24.01.2018</text><rect x="1006.5" y="468.9" width="22" height="11" fill="#ff0000"/><text x="1033.5" y="478.4" font-size="11" fill="#222">Blacklist</text><rect x="1006.5" y="486.9" width="22" height="11" fill="#00ff99"/><text x="1033.5" y="496.4" font-size="11" fill="#222">Bestellung</text><rect x="1006.5" y="504.9" width="22" height="11" fill="#993333"/><text x="1033.5" y="514.4" font-size="11" fill="#222">Bestandskunde</text><rect x="1006.5" y="522.9" width="22" height="11" fill="#9999ff"/><text x="1033.5" y="532.4" font-size="11" fill="#222">Umfrage</text><rect x="1006.5" y="540.9" width="22" height="11" fill="#669999"/><text x="1033.5" y="550.4" font-size="11" fill="#222">InfoMail</text><rect x="1006.5" y="558.9" width="22" height="11" fill="#00ff00"/><text x="1033.5" y="568.4" font-size="11" fill="#222">Telefontermin</text><rect x="1006.5" y="576.9" width="22" height="11" fill="#109933"/><text x="1033.5" y="586.4" font-size="11" fill="#222">Kundentermin</text><rect x="1006.5" y="594.9" width="22" height="11" fill="#0099ff"/><text x="1033.5" y="604.4" font-size="11" fill="#222">Wiedervorlage</text><rect x="1006.5" y="612.9" width="22" height="11" fill="#ff9900"/><text x="1033.5" y="622.4" font-size="11" fill="#222">Kein Interesse</text></svg>

<style>
.rp{position:absolute;left:24px;top:674px;width:569px;height:214px;border:1px solid #e6d3d6;background:#fff}
.nt{position:absolute;left:40px;top:722px;width:523px;height:186px;overflow:hidden;font-size:11px;color:#333}
.nr{position:absolute;left:0;width:523px;height:28px;border-top:1px solid #ddd;line-height:29px;white-space:nowrap}
.nr.o{background:#f9f9f9}
.nr span{position:absolute;top:0}
.nr .a{left:8px;color:#3a87ad}
.nr .b{left:56px}
.nr .c{left:91px}
.nr .d{left:435px}
.nr .x{position:absolute;left:505px;top:10px;width:9px;height:9px}
.sb{position:absolute;left:563px;top:722px;width:17px;height:186px;border:1px solid #a8a8a8;border-bottom:none;background:#fff}
.sbt{position:absolute;left:564px;top:739px;width:15px;height:129px;background:#cdcdcd;border-top:1px solid #9a9a9a;border-bottom:1px solid #9a9a9a}
</style>
<div class="rp"></div>
<div class="rh" style="left:40px;top:675px;width:537px">System Benachrichtigungen</div>
<div class="nt"><div class="nr o" style="top:0px"><span class="a">Öffnen</span><span class="b">524</span><span class="c">Terminreklamation für Agent Adele Walther</span><span class="d">19.01.2018</span><svg class="x" viewBox="0 0 9 9"><path d="M1.3 1.3L7.7 7.7M7.7 1.3L1.3 7.7" stroke="#e0101a" stroke-width="2.3" fill="none"/></svg></div><div class="nr" style="top:28px"><span class="a">Öffnen</span><span class="b">315</span><span class="c">Terminreklamation für Agent Gebhard Isabelle</span><span class="d">18.01.2018</span><svg class="x" viewBox="0 0 9 9"><path d="M1.3 1.3L7.7 7.7M7.7 1.3L1.3 7.7" stroke="#e0101a" stroke-width="2.3" fill="none"/></svg></div><div class="nr o" style="top:56px"><span class="a">Öffnen</span><span class="b">162</span><span class="c">Terminreklamation für Agent Nele Krimhilde</span><span class="d">17.01.2018</span><svg class="x" viewBox="0 0 9 9"><path d="M1.3 1.3L7.7 7.7M7.7 1.3L1.3 7.7" stroke="#e0101a" stroke-width="2.3" fill="none"/></svg></div><div class="nr" style="top:84px"><span class="a">Öffnen</span><span class="b">190</span><span class="c">Terminreklamation für Agent Siegfried Schaupp</span><span class="d">16.01.2018</span><svg class="x" viewBox="0 0 9 9"><path d="M1.3 1.3L7.7 7.7M7.7 1.3L1.3 7.7" stroke="#e0101a" stroke-width="2.3" fill="none"/></svg></div><div class="nr o" style="top:112px"><span class="a"></span><span class="b">222</span><span class="c">Mailversand fehlgeschlagen. Benutzer Mailprofil unvollständig</span><span class="d">16.01.2018</span><svg class="x" viewBox="0 0 9 9"><path d="M1.3 1.3L7.7 7.7M7.7 1.3L1.3 7.7" stroke="#e0101a" stroke-width="2.3" fill="none"/></svg></div><div class="nr" style="top:140px;height:37px"><span class="b">222</span><span class="c" style="line-height:11px;top:9px">Termininfo konnte nicht versendet werden. Das Benutzer Mailprofil<br>ist ...</span><span class="d">16.01.2018</span><svg class="x" viewBox="0 0 9 9"><path d="M1.3 1.3L7.7 7.7M7.7 1.3L1.3 7.7" stroke="#e0101a" stroke-width="2.3" fill="none"/></svg></div><div class="nr o" style="top:177px;height:12px"></div></div>
<div class="abs" style="left:24px;top:887px;width:540px;height:1px;background:#d9d0d0"></div><div class="sb"><svg class="abs" style="left:3px;top:4px" width="9" height="7" viewBox="0 0 9 7"><path d="M0.8 5.6L4.5 1.6L8.2 5.6" fill="none" stroke="#555" stroke-width="1.3"/></svg></div><div class="sbt"><svg class="abs" style="left:4px;top:58px" width="7" height="9" viewBox="0 0 7 9"><path d="M0 1.5H7M0 4.5H7M0 7.5H7" stroke="#666" stroke-width="1.2"/></svg></div>

<style>
.bh{position:absolute;left:25px;top:909px;width:1136px;height:32px;background:#dff0d8;border-bottom:1px solid #d3e6c9;color:#3c763d;line-height:31px;white-space:nowrap}
.bt{position:absolute;left:40px;top:956px;width:1106px;font-size:13px;color:#333}
.br{position:absolute;left:0;width:1106px;border-top:1px solid #ddd;height:36px;line-height:35px;white-space:nowrap}
.br.o{background:#f9f9f9}
.br span{position:absolute;top:0;text-align:center;transform:translateX(-50%)}
.br span.f{left:8px;transform:none;text-align:left;font-weight:bold}
.br.h span{font-weight:bold}
</style>
<div class="bh"><span class="abs" style="left:14px;top:1px;font-size:14.4px;letter-spacing:.05px;-webkit-text-stroke:.3px #3c763d">Aktive Callcenter</span><span class="abs" style="left:128px;top:2px;font-size:12.05px;-webkit-text-stroke:.25px #3c763d">(Datenstand 24.01.2018 12:00:03)</span></div>
<div class="bt"><div class="br o h" style="top:0px;height:36px;line-height:35px"><span class="f">Callcenter</span><span style="left:263.3px">Adressen</span><span style="left:352.0px">Adr/T</span><span style="left:434.2px">Termine</span><span style="left:525.5px">Min/T</span><span style="left:625.7px">Sek/NK</span><span style="left:729.0px">NoCall</span><span style="left:823.5px">Calls</span><span style="left:910.7px">Minuten</span><span style="left:998.0px">NAZ</span><span style="left:1073.0px">Euro</span></div><div class="br" style="top:36px;height:35px;line-height:34px"><span class="f">Techcall Center Gmbh</span><span style="left:263.3px">375 | 6431</span><span style="left:352.0px">63 | 36</span><span style="left:434.2px">6 | 179</span><span style="left:525.5px">69 | 48</span><span style="left:625.7px">163 | 211</span><span style="left:729.0px">375 | 1013</span><span style="left:823.5px">0 | 7329</span><span style="left:910.7px">0 | 3395</span><span style="left:998.0px">0 | 42</span><span style="left:1073.0px">0 | 36</span></div><div class="br o" style="top:71px;height:36px;line-height:35px"><span class="f">Call-Consulting</span><span style="left:263.3px">82 | 900</span><span style="left:352.0px">41 | 41</span><span style="left:434.2px">2 | 22</span><span style="left:525.5px">86 | 1132</span><span style="left:625.7px">331 | 3113</span><span style="left:729.0px">82 | 84</span><span style="left:823.5px">0 | 1198</span><span style="left:910.7px">0 | 667</span><span style="left:998.0px">0 | 1214</span><span style="left:1073.0px">0 | 7</span></div><div class="br" style="top:107px;height:36px;line-height:35px"><span class="f">Mastermind Biz GmbH</span><span style="left:263.3px">295 | 8315</span><span style="left:352.0px">23 | 36</span><span style="left:434.2px">13 | 228</span><span style="left:525.5px">46 | 66</span><span style="left:625.7px">208 | 160</span><span style="left:729.0px">295 | 951</span><span style="left:823.5px">0 | 9878</span><span style="left:910.7px">0 | 5075</span><span style="left:998.0px">0 | 60</span><span style="left:1073.0px">0 | 52</span></div></div>

</body></html>
